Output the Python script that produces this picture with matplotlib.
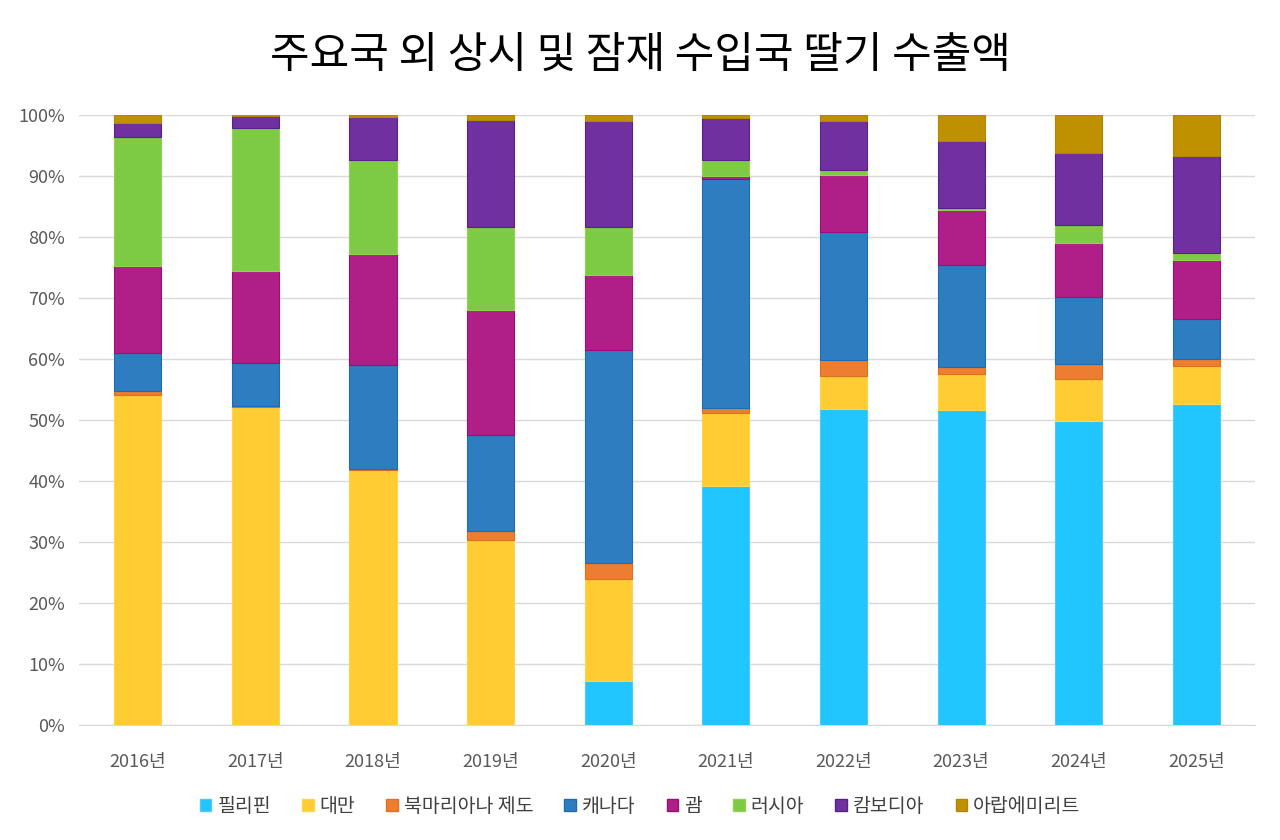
import numpy as np
import matplotlib
matplotlib.use("Agg")
import matplotlib.pyplot as plt
from matplotlib.patches import Patch

plt.rcParams['font.family'] = ['Noto Sans CJK KR', 'DejaVu Sans']

years = ["2016년", "2017년", "2018년", "2019년", "2020년",
         "2021년", "2022년", "2023년", "2024년", "2025년"]

# share of export value per country (%)
philippines = [0.0, 0.0, 0.0, 0.0, 7.2, 39.2, 51.8, 51.6, 49.8, 52.7]
taiwan      = [54.1, 52.2, 41.8, 30.3, 16.8, 11.9, 5.4, 5.9, 6.9, 6.2]
n_mariana   = [0.65, 0.05, 0.15, 1.5, 2.6, 0.9, 2.6, 1.2, 2.5, 1.1]
canada      = [6.25, 7.1, 17.0, 15.8, 34.9, 37.6, 21.1, 16.7, 11.0, 6.6]
guam        = [14.2, 15.1, 18.3, 20.4, 12.3, 0.4, 9.3, 9.1, 8.9, 9.6]
russia      = [21.2, 23.5, 15.4, 13.6, 7.8, 2.6, 0.8, 0.2, 2.9, 1.2]
cambodia    = [2.3, 1.9, 7.0, 17.6, 17.5, 7.0, 8.1, 11.0, 11.7, 15.9]
uae         = [1.3, 0.3, 0.4, 0.8, 0.9, 0.4, 0.9, 4.3, 6.3, 6.7]

names = ["필리핀", "대만", "북마리아나 제도", "캐나다", "괌", "러시아", "캄보디아", "아랍에미리트"]
series = [philippines, taiwan, n_mariana, canada, guam, russia, cambodia, uae]
colors = ["#21C5FF", "#FFCC33", "#ED7D31", "#2F7DC1", "#B01F87", "#7DCB45", "#7030A0", "#BF9000"]
edges = ["#4FC9F5", "#FFD54F", "#E07020", "#1F6CB5", "#9E0C7A", "#92D050", "#5A1F8E", "#B08800"]

fig = plt.figure(figsize=(12.8, 8.4), dpi=100)
ax = fig.add_axes([0.0617, 0.137, 0.9188, 0.726])

x = np.arange(len(years))
bottom = np.zeros(len(years))
for vals, name, c, ec in zip(series, names, colors, edges):
    v = np.array(vals)
    ax.bar(x, v, 0.4, bottom=bottom, color=c, edgecolor=ec, linewidth=0.8, label=name, zorder=3)
    bottom += v

ax.set_xlim(-0.5, len(years) - 0.5)
ax.set_ylim(0, 100)
ax.set_yticks(np.arange(0, 101, 10))
ax.set_yticklabels([f"{t}%" for t in range(0, 101, 10)])
ax.set_xticks(x)
ax.set_xticklabels(years)
ax.tick_params(axis='both', length=0, labelsize=13, colors="#595959", pad=10)
ax.tick_params(axis='x', pad=20)
ax.grid(axis='y', color="#D9D9D9", linewidth=1, zorder=0)
for s in ["top", "right", "left"]:
    ax.spines[s].set_visible(False)
ax.spines["bottom"].set_color("#D9D9D9")

fig.text(0.5, 0.933, "주요국 외 상시 및 잠재 수입국 딸기 수출액", ha="center", va="center",
         fontsize=31, color="#000000")

handles = [Patch(facecolor=c, edgecolor=ec) for c, ec in zip(colors, edges)]
fig.legend(handles, names, loc="center", bbox_to_anchor=(0.5, 0.04), ncol=8, frameon=False,
           fontsize=14, handlelength=0.6, handleheight=0.6, handletextpad=0.3, columnspacing=1.6,
           labelcolor="#404040")

fig.savefig("out.png", dpi=100, facecolor="white")
